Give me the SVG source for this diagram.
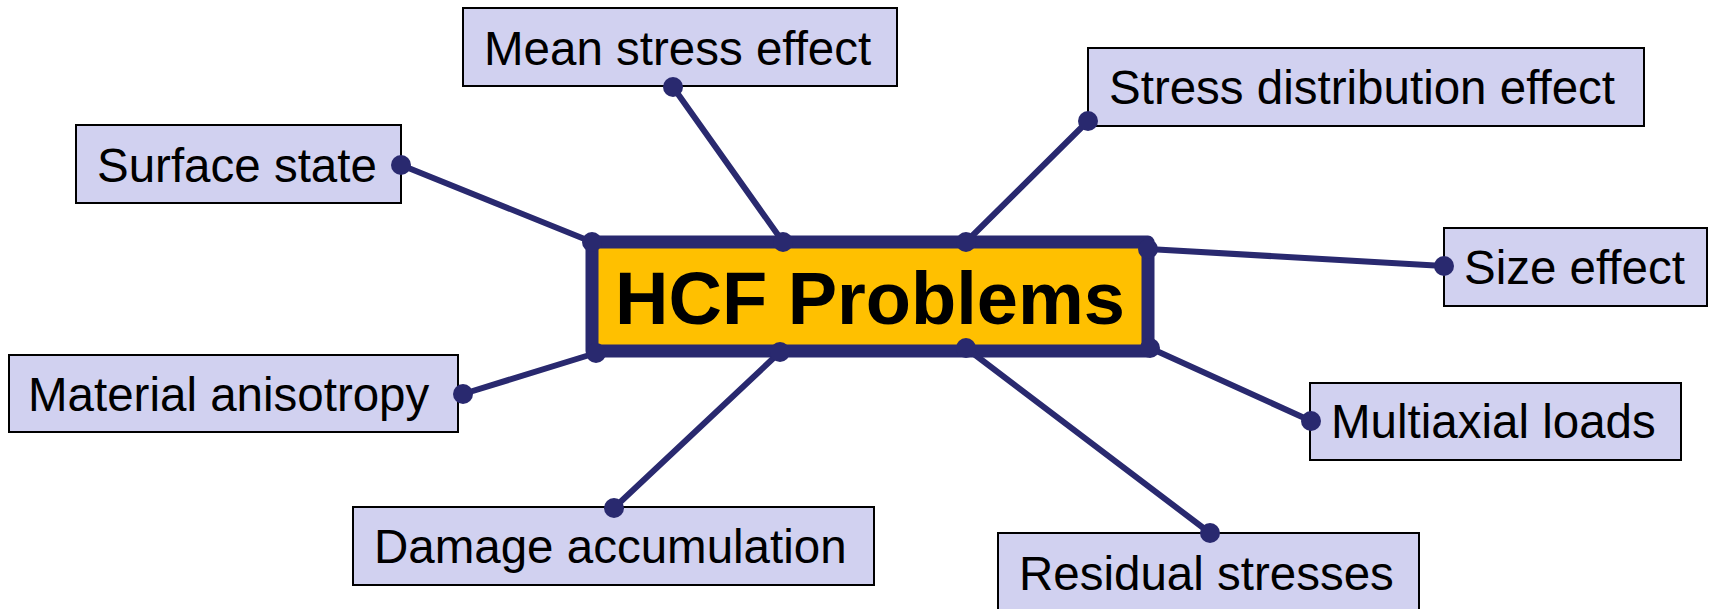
<svg xmlns="http://www.w3.org/2000/svg" width="1709" height="609" viewBox="0 0 1709 609">
<style>
.box{fill:#D1D1F0;stroke:#000;stroke-width:2}
.lbl{font-family:"Liberation Sans",Arial,sans-serif;font-size:47.5px;fill:#000}
.main{fill:#FFC000;stroke:#29296F;stroke-width:13;stroke-linejoin:round}
.title{font-family:"Liberation Sans",Arial,sans-serif;font-size:74px;font-weight:bold;fill:#000}
.con line{stroke:#29296F;stroke-width:6;stroke-linecap:round}
.con circle{fill:#29296F}
</style>
<rect width="1709" height="609" fill="#fff"/>
<g id="node-surface"><rect class="box" x="76" y="125" width="325" height="78"/><text class="lbl" x="97" y="182">Surface state</text></g>
<g id="node-mean"><rect class="box" x="463" y="8" width="434" height="78"/><text class="lbl" x="484" y="65">Mean stress effect</text></g>
<g id="node-distribution"><rect class="box" x="1088" y="48" width="556" height="78"/><text class="lbl" x="1109" y="104">Stress distribution effect</text></g>
<g id="node-size"><rect class="box" x="1444" y="228" width="263" height="78"/><text class="lbl" x="1464" y="284">Size effect</text></g>
<g id="node-multiaxial"><rect class="box" x="1310" y="383" width="371" height="77"/><text class="lbl" x="1331" y="438">Multiaxial loads</text></g>
<g id="node-material"><rect class="box" x="9" y="355" width="449" height="77"/><text class="lbl" x="28" y="411">Material anisotropy</text></g>
<g id="node-damage"><rect class="box" x="353" y="507" width="521" height="78"/><text class="lbl" x="374" y="563">Damage accumulation</text></g>
<g id="node-residual"><rect class="box" x="998" y="533" width="421" height="90"/><text class="lbl" x="1019" y="590">Residual stresses</text></g>
<g id="node-hcf"><rect class="main" x="592" y="242" width="556" height="109"/><text class="title" x="870" y="324" text-anchor="middle">HCF Problems</text></g>
<g id="connectors" class="con">
<line x1="401" y1="165" x2="592" y2="242"/><circle cx="401" cy="165" r="10"/><circle cx="592" cy="242" r="10"/>
<line x1="673" y1="87" x2="783" y2="242"/><circle cx="673" cy="87" r="10"/><circle cx="783" cy="242" r="10"/>
<line x1="1088" y1="121" x2="966" y2="242"/><circle cx="1088" cy="121" r="10"/><circle cx="966" cy="242" r="10"/>
<line x1="1444" y1="266" x2="1148" y2="249"/><circle cx="1444" cy="266" r="10"/><circle cx="1148" cy="249" r="10"/>
<line x1="1311" y1="421" x2="1150" y2="348"/><circle cx="1311" cy="421" r="10"/><circle cx="1150" cy="348" r="10"/>
<line x1="463" y1="394" x2="596" y2="353"/><circle cx="463" cy="394" r="10"/><circle cx="596" cy="353" r="10"/>
<line x1="614" y1="508" x2="780" y2="352"/><circle cx="614" cy="508" r="10"/><circle cx="780" cy="352" r="10"/>
<line x1="1210" y1="533" x2="966" y2="348"/><circle cx="1210" cy="533" r="10"/><circle cx="966" cy="348" r="10"/>
</g>
</svg>
